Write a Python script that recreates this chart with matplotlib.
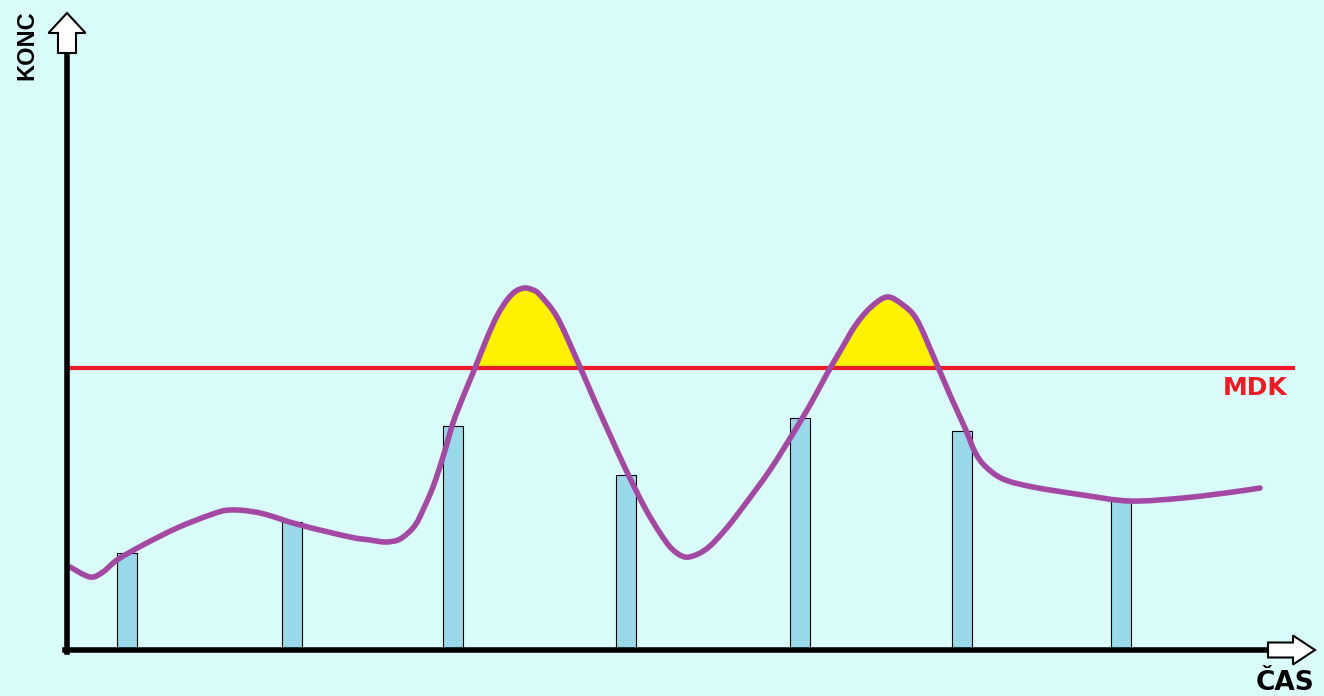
import matplotlib.pyplot as plt
from matplotlib.patches import Polygon, PathPatch, Rectangle
from matplotlib.path import Path
import numpy as np

# concentration curve (time, conc)
t = [0.3, 2.3, 3.6, 5.0, 7.6, 11.0, 14.3, 16.3, 19.3, 23.3, 28.3, 30.3, 31.8, 33.1,
     34.1, 34.9, 35.6, 36.6, 37.6, 38.6, 39.6, 40.8, 42.0, 43.0, 44.0, 44.9, 45.8,
     46.6, 47.3, 49.0, 51.0, 52.6, 54.3, 56.0, 57.8, 59.3, 60.5, 61.8, 63.1, 64.3,
     65.8, 67.3, 70.3, 73.3, 74.8, 76.1, 77.5, 78.8, 80.3, 82.0, 83.6, 85.0, 86.8,
     88.3, 89.8, 90.8, 91.8, 93.6, 96.6, 101.6, 106.3, 111.6, 116.6, 119.3]
conc = [8.3, 7.3, 7.8, 9.0, 10.5, 12.2, 13.5, 14.0, 13.7, 12.5, 11.3, 11.0, 10.8, 11.0,
        11.7, 12.6, 14.0, 16.3, 19.3, 22.7, 25.3, 28.2, 31.2, 33.4, 35.0, 35.9, 36.2,
        36.0, 35.5, 33.3, 29.0, 25.3, 21.5, 17.8, 14.2, 11.7, 10.1, 9.3, 9.6, 10.4,
        12.0, 13.9, 18.0, 22.8, 25.4, 27.8, 30.2, 32.4, 34.2, 35.3, 34.5, 33.0, 29.0,
        25.5, 22.2, 19.8, 18.4, 17.1, 16.3, 15.5, 14.9, 15.2, 15.8, 16.2]

# sampling bars
bar_t = [6.0, 22.5, 38.6, 55.9, 73.3, 89.5, 105.4]
bar_h = [9.7, 12.8, 22.4, 17.5, 23.2, 21.9, 15.1]

mdk = 28.2
mdk_end = 122.6


def smooth_path(xs, ys):
    # Catmull-Rom through the points, written as cubic Bezier segments
    pts = np.column_stack([xs, ys])
    verts = [pts[0]]
    codes = [Path.MOVETO]
    n = len(pts)
    for i in range(n - 1):
        p0 = pts[max(i - 1, 0)]
        p1 = pts[i]
        p2 = pts[i + 1]
        p3 = pts[min(i + 2, n - 1)]
        verts += [p1 + (p2 - p0) / 6, p2 - (p3 - p1) / 6, p2]
        codes += [Path.CURVE4] * 3
    return verts, codes


bg = '#d9fcfa'
fig = plt.figure(figsize=(13.24, 6.96), dpi=100, facecolor=bg)
ax = fig.add_axes([67 / 1324, 46 / 696, 1200 / 1324, 600 / 696])
ax.set_facecolor(bg)
ax.set_xlim(0, 120)
ax.set_ylim(0, 60)
ax.axis('off')

ax.bar(bar_t, bar_h, width=2.0, color='#99d9ea', edgecolor='black', linewidth=0.8, zorder=1)

verts, codes = smooth_path(t, conc)

# yellow area above MDK
fill_verts = verts + [(t[-1], mdk), (t[0], mdk), (t[0], mdk)]
fill_codes = codes + [Path.LINETO, Path.LINETO, Path.CLOSEPOLY]
fill = PathPatch(Path(fill_verts, fill_codes), facecolor='#fff200', edgecolor='none', zorder=2)
ax.add_patch(fill)
fill.set_clip_path(Rectangle((0, mdk), 120, 40, transform=ax.transData))

ax.plot([0, mdk_end], [mdk, mdk], color='#ed1c24', lw=3.0, clip_on=False, zorder=3)
ax.add_patch(PathPatch(Path(verts, codes), facecolor='none', edgecolor='#a349a4', lw=4.0,
                       capstyle='round', joinstyle='round', zorder=4))

# axes with hollow arrows
ax.plot([0, 0], [-0.2, 59.8], color='black', lw=4.0, solid_capstyle='projecting', clip_on=False, zorder=5)
ax.plot([-0.2, 120.2], [0, 0], color='black', lw=4.0, solid_capstyle='projecting', clip_on=False, zorder=5)
up = Polygon([(-0.9, 59.7), (0.9, 59.7), (0.9, 61.7), (1.85, 61.7), (0, 63.7),
              (-1.85, 61.7), (-0.9, 61.7)], closed=True, facecolor='white',
             edgecolor='black', lw=1.5, clip_on=False, zorder=6)
right = Polygon([(120.1, -0.75), (122.6, -0.75), (122.6, -1.45), (124.8, 0),
                 (122.6, 1.45), (122.6, 0.75), (120.1, 0.75)], closed=True,
                facecolor='white', edgecolor='black', lw=1.5, clip_on=False, zorder=6)
ax.add_patch(up)
ax.add_patch(right)

ax.text(-4.0, 60.5, 'KONC', rotation=90, ha='center', va='center', fontsize=17,
        fontweight='bold', family=['Liberation Sans Narrow', 'Liberation Sans', 'DejaVu Sans'],
        clip_on=False)
ax.text(121.8, -3.3, 'ČAS', ha='center', va='center', fontsize=19, fontweight='bold',
        clip_on=False)
ax.text(118.8, 26.2, 'MDK', ha='center', va='center', fontsize=18, fontweight='bold',
        color='#ed1c24', clip_on=False)

fig.savefig('out.png', dpi=100, facecolor=bg)
